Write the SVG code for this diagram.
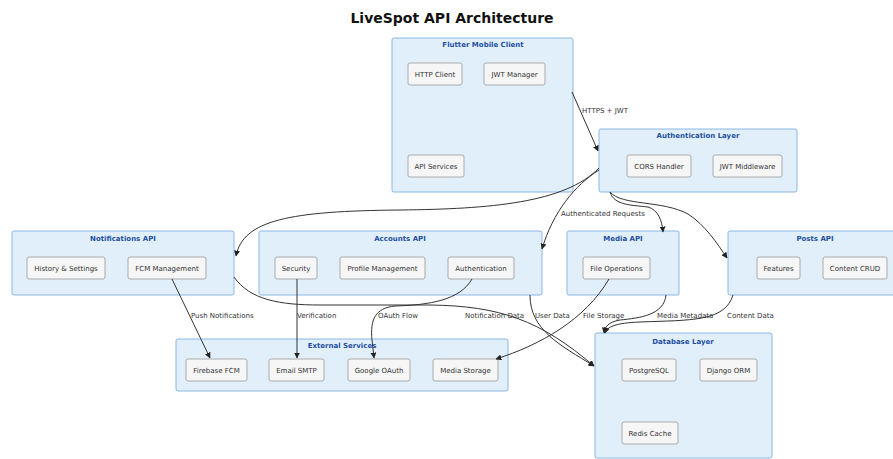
<svg xmlns="http://www.w3.org/2000/svg" width="893" height="459" viewBox="0 0 893 459">
<defs>
<marker id="arr" viewBox="0 0 10 10" refX="9" refY="5" markerWidth="6" markerHeight="6" orient="auto" markerUnits="userSpaceOnUse">
<path d="M0,0 L10,5 L0,10 z" fill="#222"/>
</marker>
</defs>
<style>
.cl{fill:#e1effb;stroke:#8ab8e6;stroke-width:1}
.ct{font-family:"DejaVu Sans",sans-serif;font-size:7px;font-weight:bold;fill:#1f4fa0;text-anchor:middle}
.nd{fill:#f6f6f6;stroke:#aaaaaa;stroke-width:1}
.nt{font-family:"DejaVu Sans",sans-serif;font-size:7px;fill:#333;text-anchor:middle}
.ed{fill:none;stroke:#333;stroke-width:1;marker-end:url(#arr)}
.el{font-family:"DejaVu Sans",sans-serif;font-size:7px;fill:#333}
.title{font-family:"DejaVu Sans",sans-serif;font-size:14px;font-weight:bold;fill:#111;text-anchor:middle}
</style>
<rect width="893" height="459" fill="#ffffff"/>
<text class="title" x="452" y="23">LiveSpot API Architecture</text>

<g id="flutter-client">
<rect class="cl" x="392" y="38" width="181" height="154" rx="2"/>
<text class="ct" x="483" y="46.5">Flutter Mobile Client</text>
</g>
<g id="http-client"><rect class="nd" x="408" y="63" width="54" height="22" rx="2"/><text class="nt" x="435" y="76.5">HTTP Client</text></g>
<g id="jwt-manager"><rect class="nd" x="484" y="63" width="61" height="22" rx="2"/><text class="nt" x="514.5" y="76.5">JWT Manager</text></g>
<g id="api-services"><rect class="nd" x="408" y="155" width="56" height="22" rx="2"/><text class="nt" x="436" y="168.5">API Services</text></g>

<g id="auth-layer">
<rect class="cl" x="599" y="129" width="198" height="63" rx="2"/>
<text class="ct" x="698" y="137.5">Authentication Layer</text>
</g>
<g id="cors-handler"><rect class="nd" x="627" y="155" width="64" height="22" rx="2"/><text class="nt" x="659" y="168.5">CORS Handler</text></g>
<g id="jwt-middleware"><rect class="nd" x="713" y="155" width="69" height="22" rx="2"/><text class="nt" x="747.5" y="168.5">JWT Middleware</text></g>

<g id="notifications-api">
<rect class="cl" x="12" y="231" width="222" height="64" rx="2"/>
<text class="ct" x="123" y="240.5">Notifications API</text>
</g>
<g id="history-settings"><rect class="nd" x="27" y="257" width="78" height="22" rx="2"/><text class="nt" x="66" y="270.5">History &amp; Settings</text></g>
<g id="fcm-management"><rect class="nd" x="128" y="257" width="78" height="22" rx="2"/><text class="nt" x="167" y="270.5">FCM Management</text></g>

<g id="accounts-api">
<rect class="cl" x="259" y="231" width="283" height="64" rx="2"/>
<text class="ct" x="400" y="240.5">Accounts API</text>
</g>
<g id="security"><rect class="nd" x="275" y="257" width="42" height="22" rx="2"/><text class="nt" x="296" y="270.5">Security</text></g>
<g id="profile-management"><rect class="nd" x="340" y="257" width="85" height="22" rx="2"/><text class="nt" x="382.5" y="270.5">Profile Management</text></g>
<g id="authentication"><rect class="nd" x="448" y="257" width="66" height="22" rx="2"/><text class="nt" x="481" y="270.5">Authentication</text></g>

<g id="media-api">
<rect class="cl" x="567" y="231" width="112" height="64" rx="2"/>
<text class="ct" x="623" y="240.5">Media API</text>
</g>
<g id="file-operations"><rect class="nd" x="583" y="257" width="67" height="22" rx="2"/><text class="nt" x="616.5" y="270.5">File Operations</text></g>

<g id="posts-api">
<rect class="cl" x="728" y="231" width="174" height="64" rx="2"/>
<text class="ct" x="815" y="240.5">Posts API</text>
</g>
<g id="features"><rect class="nd" x="757" y="257" width="43" height="22" rx="2"/><text class="nt" x="778.5" y="270.5">Features</text></g>
<g id="content-crud"><rect class="nd" x="823" y="257" width="64" height="22" rx="2"/><text class="nt" x="855" y="270.5">Content CRUD</text></g>

<g id="external-services">
<rect class="cl" x="176" y="339" width="332" height="52" rx="2"/>
<text class="ct" x="342" y="347.5">External Services</text>
</g>
<g id="firebase-fcm"><rect class="nd" x="186" y="359" width="61" height="22" rx="2"/><text class="nt" x="216.5" y="372.5">Firebase FCM</text></g>
<g id="email-smtp"><rect class="nd" x="269" y="359" width="55" height="22" rx="2"/><text class="nt" x="296.5" y="372.5">Email SMTP</text></g>
<g id="google-oauth"><rect class="nd" x="348" y="359" width="62" height="22" rx="2"/><text class="nt" x="379" y="372.5">Google OAuth</text></g>
<g id="media-storage"><rect class="nd" x="433" y="359" width="65" height="22" rx="2"/><text class="nt" x="465.5" y="372.5">Media Storage</text></g>

<g id="database-layer">
<rect class="cl" x="595" y="333" width="177" height="125" rx="2"/>
<text class="ct" x="683" y="343.5">Database Layer</text>
</g>
<g id="postgresql"><rect class="nd" x="622" y="359" width="54" height="22" rx="2"/><text class="nt" x="649" y="372.5">PostgreSQL</text></g>
<g id="django-orm"><rect class="nd" x="700" y="359" width="57" height="22" rx="2"/><text class="nt" x="728.5" y="372.5">Django ORM</text></g>
<g id="redis-cache"><rect class="nd" x="622" y="422" width="56" height="22" rx="2"/><text class="nt" x="650" y="435.5">Redis Cache</text></g>

<g id="connectors">
<path class="ed" d="M572,92 L598,151"/>
<path class="ed" d="M599,168 C565,203 490,209 400,210 C290,211 243,220 236,256"/>
<path class="ed" d="M599,170 C575,185 553,212 542,249"/>
<path class="ed" d="M610,192 C614,205 630,205 648,207 C658,210 662,220 663,232"/>
<path class="ed" d="M610,192 C622,206 662,200 688,214 C705,225 717,243 727,258"/>
<path class="ed" d="M172,279 L210,358"/>
<path class="ed" d="M297,279 L297,358"/>
<path class="ed" d="M472,279 C460,300 430,305 395,306 C375,308 370,320 372,340 L374,358"/>
<path class="ed" d="M609,279 C585,320 540,345 496,359"/>
<path class="ed" d="M234,277 C250,300 280,305 320,305 L430,305 C500,306 540,320 594,366"/>
<path class="ed" d="M530,295 C530,330 560,345 594,366"/>
<path class="ed" d="M666,295 C664,315 640,318 620,320 C608,322 605,327 604,333"/>
<path class="ed" d="M733,295 C725,322 690,320 640,322 C615,323 607,327 605,333"/>
<text class="el" x="582" y="112.5">HTTPS + JWT</text>
<text class="el" x="561" y="215.5">Authenticated Requests</text>
<text class="el" x="191" y="317.5">Push Notifications</text>
<text class="el" x="297" y="317.5">Verification</text>
<text class="el" x="378" y="317.5">OAuth Flow</text>
<text class="el" x="465" y="317.5">Notification Data</text>
<text class="el" x="535" y="317.5">User Data</text>
<text class="el" x="583" y="317.5">File Storage</text>
<text class="el" x="657" y="317.5">Media Metadata</text>
<text class="el" x="727" y="317.5">Content Data</text>
</g>
</svg>
